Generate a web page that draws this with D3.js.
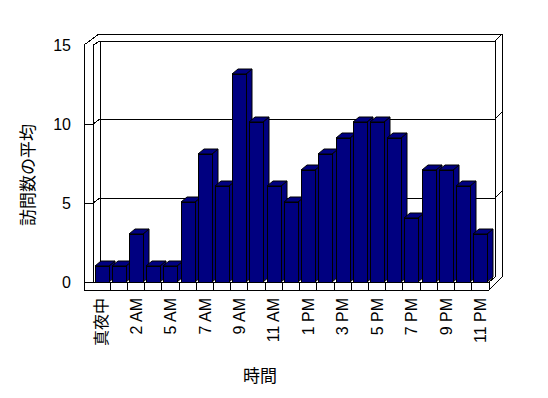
<!DOCTYPE html>
<html>
<head>
<meta charset="utf-8">
<script src="https://cdn.jsdelivr.net/npm/d3@7"></script>
<style>
  body { margin: 0; background: #fff; }
  svg text { font-family: "Liberation Sans", "Noto Sans CJK JP", sans-serif; fill: #000; }
</style>
</head>
<body>
<svg width="548" height="398"></svg>
<script>
// hours (3 AM has no data)
var categories = ["真夜中", "1 AM", "2 AM", "4 AM", "5 AM", "6 AM", "7 AM", "8 AM", "9 AM", "10 AM", "11 AM", "正午",
                  "1 PM", "2 PM", "3 PM", "4 PM", "5 PM", "6 PM", "7 PM", "8 PM", "9 PM", "10 PM", "11 PM"];
var visits = [1, 1, 3, 1, 1, 5, 8, 6, 13, 10, 6, 5, 7, 8, 9, 10, 10, 9, 4, 7, 7, 6, 3];
var yTicks = [0, 5, 10, 15];
var yTitle = "訪問数の平均";
var xTitle = "時間";

var svg = d3.select("svg");

var x = d3.scaleBand().domain(categories).range([93, 489]);
var yBar = d3.scaleLinear().domain([0, 15]).range([282, 42]);
var yWall = d3.scaleLinear().domain([0, 15]).range([282, 45]);
var dx = 6, dy = -5;        // bar depth
var bx = 7, by = -5;        // wall offset (front edge -> back face)

var line = function(pts) { return "M" + pts.map(function(p) { return p.join(","); }).join("L"); };

var walls = svg.append("g")
  .attr("fill", "none").attr("stroke", "#000").attr("stroke-width", 1)
  .attr("shape-rendering", "crispEdges");

// outer outline
walls.append("path")
  .attr("d", line([[84, 290], [84, 45], [99, 34], [502, 34], [502, 277], [489, 290]]) + "Z")
  .attr("fill", "#fff");

// left wall inner edge, back wall, top edge
walls.append("path").attr("d", line([[93, 282], [93, 45], [100, 41]]));
walls.append("path").attr("d", line([[100, 277], [100, 41], [495, 41], [495, 277]]));
walls.append("path").attr("d", line([[495, 41], [502, 34]]));
walls.append("path").attr("d", line([[84, 282], [489, 282], [495, 277]]));
walls.append("path").attr("d", line([[489, 290], [489, 282]]));

// gridlines
yTicks.filter(function(v) { return v > 0 && v < 15; }).forEach(function(v) {
  walls.append("path").attr("d", line([[84, yWall(v)], [93, yWall(v)], [100, yWall(v) + by], [495, yWall(v) + by], [502, yWall(v) + by - 7]]));
});

// floor front dividers
categories.slice(1).forEach(function(c) {
  walls.append("path").attr("d", line([[x(c), 282], [x(c), 290]]));
});

// bars
var bars = svg.append("g").attr("stroke", "#000").attr("stroke-width", 1).attr("fill", "#000080");
categories.forEach(function(c, i) {
  var x0 = Math.round(x(c) + 1.5), x1 = x0 + 14;
  var y0 = Math.round(yBar(visits[i])), yb = 282;
  var g = bars.append("g");
  g.append("path").attr("d", line([[x1, y0], [x1 + dx, y0 + dy], [x1 + dx, yb + dy], [x1, yb]]) + "Z");
  g.append("path").attr("d", line([[x0, y0], [x0 + dx, y0 + dy], [x1 + dx, y0 + dy], [x1, y0]]) + "Z");
  g.append("rect").attr("x", x0).attr("y", y0).attr("width", 14).attr("height", yb - y0)
    .attr("shape-rendering", "crispEdges");
});

// y tick labels
svg.append("g").selectAll("text").data(yTicks).enter().append("text")
  .attr("x", 71).attr("y", function(d) { return yWall(d); })
  .attr("dy", "0.35em").attr("text-anchor", "end")
  .style("font-size", "16px")
  .text(function(d) { return d; });

// x tick labels (every other category)
svg.append("g").selectAll("text")
  .data(categories.filter(function(c, i) { return i % 2 === 0; }))
  .enter().append("text")
  .attr("transform", function(d) { return "translate(" + (x(d) + x.bandwidth() / 2) + ",298) rotate(-90)"; })
  .attr("dy", "0.35em").attr("text-anchor", "end")
  .style("font-size", "16px")
  .text(function(d) { return d; });

// axis titles
svg.append("text")
  .attr("transform", "translate(28,175) rotate(-90)")
  .attr("dy", "0.35em").attr("text-anchor", "middle")
  .style("font-size", "17px")
  .text(yTitle);

svg.append("text")
  .attr("x", 260).attr("y", 376)
  .attr("dy", "0.35em").attr("text-anchor", "middle")
  .style("font-size", "17px")
  .text(xTitle);
</script>
</body>
</html>
